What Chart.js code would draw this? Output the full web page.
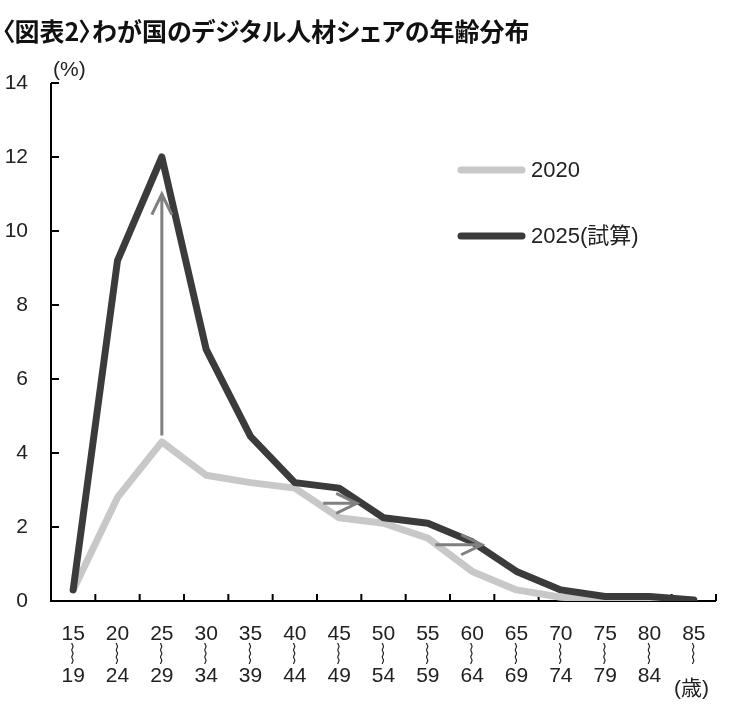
<!DOCTYPE html>
<html>
<head>
<meta charset="utf-8">
<script src="https://cdn.jsdelivr.net/npm/chart.js@4.4.1/dist/chart.umd.min.js"></script>
<style>
  html, body { margin: 0; padding: 0; background: #fff; }
  #wrap { position: relative; width: 748px; height: 708px; }
  #title {
    position: absolute; left: 2px; top: 12px; margin: 0;
    font: bold 25px "Noto Sans CJK JP", sans-serif; color: #111;
    font-feature-settings: "palt"; white-space: nowrap;
  }
</style>
</head>
<body>
<div id="wrap">
  <h1 id="title">〈図表2〉わが国のデジタル人材シェアの年齢分布</h1>
  <canvas id="chart" width="748" height="708"></canvas>
</div>
<script>
const ageFrom = ['15', '20', '25', '30', '35', '40', '45', '50', '55', '60', '65', '70', '75', '80', '85'];
const ageTo = ['19', '24', '29', '34', '39', '44', '49', '54', '59', '64', '69', '74', '79', '84', ''];
const share2020 = [0.3, 2.8, 4.3, 3.4, 3.2, 3.05, 2.25, 2.1, 1.7, 0.8, 0.3, 0.1, 0.05, 0.03, 0.0];
const share2025 = [0.3, 9.2, 12.0, 6.8, 4.45, 3.2, 3.05, 2.25, 2.1, 1.6, 0.8, 0.3, 0.12, 0.12, 0.03];
const yTicks = [0, 2, 4, 6, 8, 10, 12, 14];
// arrows: [x from, y from, x to, y to] in category index / % units
const arrows = [
    [2, 4.47, 2, 11.0],
    [5.64, 2.64, 6.4, 2.64],
    [8.17, 1.52, 9.22, 1.52]
];

// vertical wave between "from" and "to" ages (leading spaces centre the glyph)
const labels = ageFrom.map((a, i) => [a, '\u2002\u2005︴', ageTo[i]]);
const FONT = '"Liberation Sans", "Noto Sans CJK JP", Arial, sans-serif';

const decor = {
    id: 'decor',
    beforeDatasetsDraw(chart) {
        const { ctx, chartArea: a, scales: { x, y } } = chart;
        ctx.save();
        ctx.strokeStyle = '#000';
        ctx.lineWidth = 2;
        ctx.beginPath();
        ctx.moveTo(a.left, a.top);
        ctx.lineTo(a.left, a.bottom);
        ctx.lineTo(a.right, a.bottom);
        yTicks.forEach(v => {
            const py = y.getPixelForValue(v);
            ctx.moveTo(a.left, py);
            ctx.lineTo(a.left + 8, py);
        });
        for (let i = 1; i <= ageFrom.length; i++) {
            const px = x.getPixelForValue(i - 0.5);
            ctx.moveTo(px, a.bottom);
            ctx.lineTo(px, a.bottom - 7);
        }
        ctx.stroke();
        ctx.restore();
    },
    afterDatasetsDraw(chart) {
        const { ctx, scales: { x, y } } = chart;
        ctx.save();
        ctx.strokeStyle = '#808080';
        ctx.lineWidth = 3;
        arrows.forEach(([x0, y0, x1, y1]) => {
            const ax = x.getPixelForValue(x0), ay = y.getPixelForValue(y0);
            const bx = x.getPixelForValue(x1), by = y.getPixelForValue(y1);
            const ang = Math.atan2(by - ay, bx - ax);
            ctx.beginPath();
            ctx.moveTo(ax, ay);
            ctx.lineTo(bx, by);
            ctx.moveTo(bx - 23 * Math.cos(ang - 0.45), by - 23 * Math.sin(ang - 0.45));
            ctx.lineTo(bx, by);
            ctx.lineTo(bx - 23 * Math.cos(ang + 0.45), by - 23 * Math.sin(ang + 0.45));
            ctx.stroke();
        });
        ctx.restore();
    },
    afterDraw(chart) {
        const { ctx, chartArea: a } = chart;
        ctx.save();
        // legend
        const items = [['2020', '#c8c8c8', 170], ['2025(試算)', '#3b3b3b', 236]];
        items.forEach(([txt, col, ly]) => {
            ctx.strokeStyle = col;
            ctx.lineWidth = 7;
            ctx.lineCap = 'round';
            ctx.beginPath();
            ctx.moveTo(461, ly);
            ctx.lineTo(522, ly);
            ctx.stroke();
            ctx.fillStyle = '#222';
            ctx.font = '22px ' + FONT;
            ctx.textBaseline = 'middle';
            ctx.textAlign = 'left';
            ctx.fillText(txt, 531, ly + 1);
        });
        ctx.font = '21px ' + FONT;
        ctx.fillStyle = '#222';
        ctx.textBaseline = 'middle';
        ctx.fillText('(%)', a.left + 2, a.top - 13);
        ctx.fillText('(歳)', 674, 689);
        ctx.restore();
    }
};

new Chart(document.getElementById('chart'), {
    type: 'line',
    data: {
        labels: labels,
        datasets: [
            {
                label: '2020',
                data: share2020,
                borderColor: '#c8c8c8',
                borderWidth: 7,
                order: 1
            },
            {
                label: '2025(試算)',
                data: share2025,
                borderColor: '#3b3b3b',
                borderWidth: 7,
                order: 0
            }
        ]
    },
    options: {
        responsive: false,
        animation: false,
        layout: { padding: { top: 83, right: 32, bottom: 17, left: 0 } },
        elements: {
            point: { radius: 0 },
            line: { tension: 0, borderJoinStyle: 'round', borderCapStyle: 'round' }
        },
        plugins: {
            legend: { display: false },
            tooltip: { enabled: false },
            title: { display: false }
        },
        scales: {
            x: {
                offset: true,
                grid: { display: false },
                border: { display: false },
                ticks: {
                    color: '#222',
                    padding: 15,
                    maxRotation: 0,
                    autoSkip: false,
                    font: { family: FONT, size: 21, lineHeight: 1.0 }
                },
                afterFit(scale) { scale.height = 90; }
            },
            y: {
                min: 0,
                max: 14,
                grid: { display: false },
                border: { display: false },
                ticks: {
                    stepSize: 2,
                    color: '#222',
                    padding: 15,
                    font: { family: FONT, size: 21 }
                },
                afterFit(scale) { scale.width = 51; }
            }
        }
    },
    plugins: [decor]
});
</script>
</body>
</html>
